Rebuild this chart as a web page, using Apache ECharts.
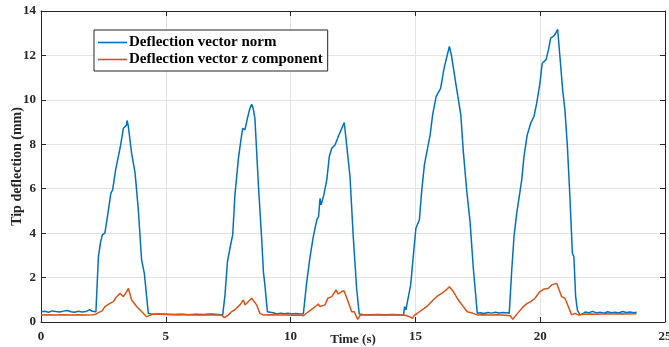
<!DOCTYPE html>
<html>
<head>
<meta charset="utf-8">
<script src="https://cdn.jsdelivr.net/npm/echarts@6/dist/echarts.min.js"></script>
<style>html,body{margin:0;padding:0;background:#fff}#c{width:669px;height:347px}</style>
</head>
<body>
<div id="c"></div>
<script>
// Data
var seriesNames = ['Deflection vector norm', 'Deflection vector z component'];
var xTicks = [0, 5, 10, 15, 20, 25];
var yTicks = [0, 2, 4, 6, 8, 10, 12, 14];

var normTime = [0,0.15,0.3,0.45,0.6,0.75,0.9,1.05,1.2,1.35,1.5,1.65,1.8,1.95,2.05,2.2,
  2.30,2.39,2.46,2.56,2.70,2.80,2.87,2.92,2.99,3.07,3.18,3.30,3.37,3.42,3.45,3.50,3.55,3.63,3.77,3.90,4.03,4.14,4.30,
  4.45,4.7,5.0,5.3,5.6,5.9,6.2,6.5,6.8,7.1,7.28,
  7.37,7.47,7.57,7.68,7.77,7.91,8.0,8.08,8.17,8.27,8.37,8.44,8.50,8.57,8.71,8.84,8.91,8.97,9.07,
  9.15,9.3,9.45,9.6,9.75,9.9,10.05,10.2,10.35,10.51,
  10.64,10.78,10.91,11.05,11.12,11.18,11.22,11.33,11.45,11.55,11.65,11.78,11.91,12.05,12.15,12.2,12.38,12.51,12.65,12.75,
  12.9,13.2,13.5,13.8,14.1,14.4,14.52,
  14.57,14.62,14.68,14.81,14.92,15.02,15.16,15.25,15.36,15.45,15.59,15.69,15.83,16.01,16.15,16.28,16.36,16.44,16.65,16.82,16.92,17.06,17.19,17.32,17.48,
  17.6,17.75,17.9,18.05,18.2,18.35,18.5,18.65,18.76,
  18.86,18.95,19.06,19.16,19.26,19.35,19.48,19.56,19.62,19.75,19.86,19.99,20.08,20.23,20.33,20.42,20.55,20.62,20.70,20.79,20.9,20.99,21.09,21.19,21.29,21.35,21.42,21.49,21.59,
  21.7,21.8,21.95,22.1,22.25,22.4,22.55,22.7,22.85,23.0,23.15,23.3,23.45,23.6,23.75,23.86];
var normValues = [0.46,0.48,0.44,0.50,0.47,0.45,0.49,0.52,0.46,0.44,0.48,0.45,0.47,0.56,0.48,0.46,
  2.94,3.62,3.92,4.0,5.04,5.8,5.95,5.9,6.85,7.3,7.9,8.72,8.8,8.85,9.07,8.8,8.75,7.6,6.7,5.04,2.8,2.19,0.39,
  0.35,0.36,0.35,0.34,0.35,0.33,0.35,0.34,0.36,0.34,0.32,
  1.2,2.72,3.32,3.92,5.72,7.37,8.12,8.72,8.65,9.17,9.62,9.8,9.62,9.17,6.17,3.77,2.27,1.67,0.46,
  0.38,0.42,0.36,0.40,0.37,0.39,0.36,0.38,0.37,0.36,
  1.74,2.94,3.84,4.6,4.75,5.57,5.27,5.72,6.4,7.45,7.82,7.97,8.35,8.72,8.98,8.9,6.55,3.84,1.44,0.36,
  0.34,0.33,0.34,0.33,0.34,0.33,0.3,
  0.69,0.55,0.46,1.67,3.02,4.22,4.6,5.87,7.07,7.6,8.42,9.32,10.15,10.52,11.43,12.03,12.4,12.03,10.52,9.32,7.67,5.87,4.52,2.42,0.39,
  0.42,0.38,0.43,0.40,0.44,0.41,0.43,0.42,0.39,
  2.34,3.84,4.9,5.64,6.4,7.45,8.42,8.5,8.95,9.25,9.85,10.75,11.65,11.8,12.25,12.78,12.88,13.0,13.18,11.95,10.45,9.55,7.9,5.64,3.09,2.94,1.14,0.54,0.32,
  0.36,0.45,0.42,0.48,0.41,0.44,0.40,0.46,0.42,0.44,0.41,0.47,0.43,0.45,0.42,0.44];

var zTime = [0,0.3,0.6,0.9,1.2,1.5,1.8,2.1,2.2,2.3,2.45,2.56,2.76,2.9,2.97,3.03,3.17,3.3,3.43,3.5,3.63,3.84,4.03,4.23,4.37,
  4.5,4.8,5.1,5.4,5.7,6.0,6.3,6.6,6.9,7.2,7.28,7.35,7.42,7.51,7.64,7.77,7.85,7.97,8.05,8.11,8.17,8.31,8.44,8.5,8.64,8.77,8.9,
  9.2,9.5,9.8,10.1,10.4,10.51,10.71,10.91,11.11,11.18,11.38,11.49,11.65,11.82,11.91,12.05,12.14,12.28,12.45,12.55,12.69,12.78,
  12.9,13.2,13.5,13.8,14.1,14.4,14.6,14.76,14.89,14.95,15.05,15.25,15.45,15.65,15.85,16.05,16.23,16.36,16.52,16.72,16.92,17.08,17.3,17.48,
  17.7,18.0,18.3,18.6,18.8,18.9,18.95,19.1,19.32,19.48,19.62,19.79,19.99,20.13,20.33,20.46,20.66,20.72,20.86,20.99,21.13,21.26,21.39,21.53,
  21.7,22.0,22.3,22.6,22.9,23.2,23.5,23.86];
var zValues = [0.32,0.33,0.31,0.33,0.32,0.33,0.31,0.33,0.35,0.42,0.5,0.69,0.84,0.92,0.86,1.14,1.29,1.14,1.37,1.52,0.99,0.69,0.47,0.24,0.3,
  0.36,0.35,0.34,0.33,0.34,0.33,0.32,0.33,0.32,0.33,0.25,0.2,0.28,0.32,0.47,0.55,0.5,0.77,0.8,0.99,0.77,0.92,1.07,1.05,0.77,0.39,0.32,
  0.33,0.31,0.32,0.30,0.31,0.28,0.46,0.62,0.81,0.7,0.77,1.07,1.14,1.44,1.26,1.37,1.41,0.99,0.46,0.46,0.12,0.3,
  0.33,0.32,0.33,0.32,0.33,0.32,0.3,0.24,0.17,0.3,0.36,0.54,0.69,0.92,1.14,1.29,1.44,1.59,1.37,0.99,0.69,0.46,0.39,0.32,
  0.33,0.32,0.33,0.3,0.28,0.12,0.17,0.4,0.69,0.84,0.92,1.07,1.37,1.47,1.52,1.67,1.74,1.67,1.14,1.07,0.69,0.32,0.39,0.32,
  0.35,0.36,0.35,0.37,0.36,0.37,0.36,0.37];

function pairs(t, v) { return t.map(function (x, i) { return [x, v[i]]; }); }

var FONT = '"Liberation Serif", "Times New Roman", serif';
var axisColor = '#262626';
var gridColor = '#e3e3e3';

var chart = echarts.init(document.getElementById('c'), null, {renderer: 'canvas'});
var baseX = {
  type: 'value', min: xTicks[0], max: xTicks[xTicks.length - 1], interval: 5
};
var baseY = {
  type: 'value', min: yTicks[0], max: yTicks[yTicks.length - 1], interval: 2
};
chart.setOption({
  animation: false,
  backgroundColor: '#fff',
  grid: {left: 41, right: 4, top: 11, bottom: 25, containLabel: false, outerBoundsMode: 'none'},
  legend: {
    orient: 'vertical', left: 94, top: 30, padding: [5, 5, 4, 4],
    backgroundColor: '#fff', borderColor: '#222', borderWidth: 1,
    icon: 'rect', itemWidth: 29, itemHeight: 1.6, itemGap: 2,
    textStyle: {fontFamily: FONT, fontWeight: 'bold', fontSize: 15, color: '#000', padding: [0, 0, 0, -3], lineHeight: 15},
    data: seriesNames
  },
  xAxis: [
    Object.assign({}, baseX, {
      position: 'bottom',
      name: 'Time (s)', nameLocation: 'middle', nameGap: 18, nameMoveOverlap: false,
      nameTextStyle: {fontFamily: FONT, fontWeight: 'bold', fontSize: 13, color: '#262626', verticalAlign: 'middle'},
      axisLine: {show: true, onZero: false, lineStyle: {color: axisColor, width: 1}},
      axisTick: {show: true, inside: true, length: 5, lineStyle: {color: axisColor}},
      axisLabel: {fontFamily: FONT, fontWeight: 'bold', fontSize: 13, color: '#262626', margin: 8},
      splitLine: {show: true, lineStyle: {color: gridColor, width: 1}}
    }),
    Object.assign({}, baseX, {
      position: 'top',
      axisLine: {show: true, onZero: false, lineStyle: {color: axisColor, width: 1}},
      axisTick: {show: true, inside: true, length: 5, lineStyle: {color: axisColor}},
      axisLabel: {show: false},
      splitLine: {show: false}
    })
  ],
  yAxis: [
    Object.assign({}, baseY, {
      position: 'left',
      name: 'Tip deflection (mm)', nameLocation: 'middle', nameGap: 24, nameRotate: 90, nameMoveOverlap: false,
      nameTextStyle: {fontFamily: FONT, fontWeight: 'bold', fontSize: 14, color: '#262626', verticalAlign: 'middle'},
      axisLine: {show: true, onZero: false, lineStyle: {color: axisColor, width: 1}},
      axisTick: {show: true, inside: true, length: 5, lineStyle: {color: axisColor}},
      axisLabel: {fontFamily: FONT, fontWeight: 'bold', fontSize: 13, color: '#262626', margin: 5},
      splitLine: {show: true, lineStyle: {color: gridColor, width: 1}}
    }),
    Object.assign({}, baseY, {
      position: 'right',
      axisLine: {show: true, onZero: false, lineStyle: {color: axisColor, width: 1}},
      axisTick: {show: true, inside: true, length: 5, lineStyle: {color: axisColor}},
      axisLabel: {show: false},
      splitLine: {show: false}
    })
  ],
  series: [
    {
      name: seriesNames[0], type: 'line', xAxisIndex: 0, yAxisIndex: 0,
      data: pairs(normTime, normValues), symbol: 'none', showSymbol: false,
      lineStyle: {color: '#0072BD', width: 1.5}, itemStyle: {color: '#0072BD'}
    },
    {
      name: seriesNames[1], type: 'line', xAxisIndex: 0, yAxisIndex: 0,
      data: pairs(zTime, zValues), symbol: 'none', showSymbol: false,
      lineStyle: {color: '#D95319', width: 1.5}, itemStyle: {color: '#D95319'}
    }
  ]
});
</script>
</body>
</html>
